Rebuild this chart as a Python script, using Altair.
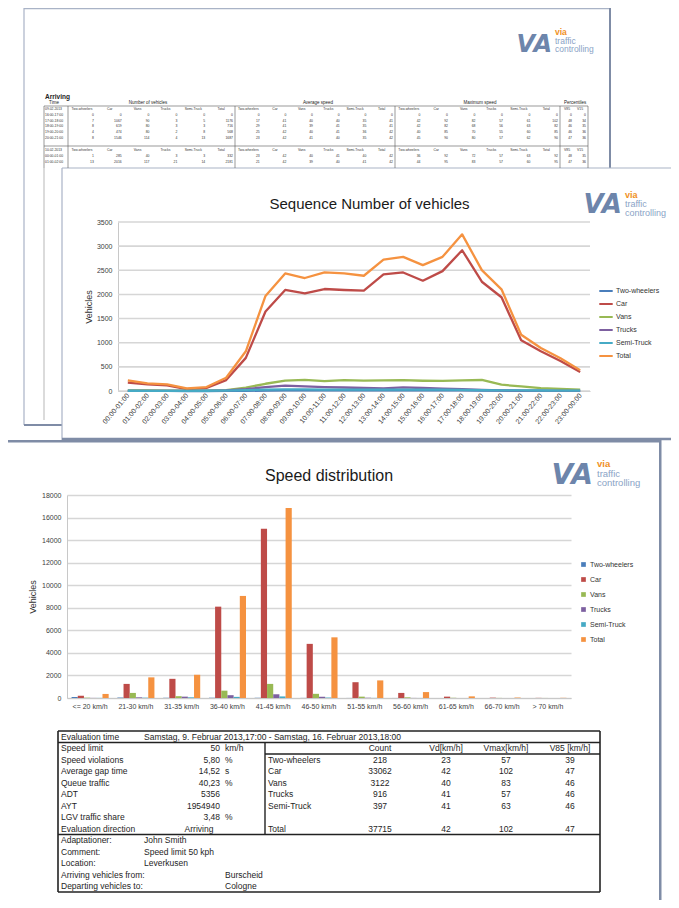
import altair as alt
import pandas as pd

FONT = "Liberation Sans"
NARROW = "Liberation Sans Narrow, Liberation Sans, sans-serif"

# ------------------------------------------------------------------ data
series = ["Two-wheelers", "Car", "Vans", "Trucks", "Semi-Truck", "Total"]
series_colors = ["#4a7ebb", "#be4b48", "#98b954", "#7d60a0", "#46aac5", "#f59240"]

hours = ["00:00-01:00", "01:00-02:00", "02:00-03:00", "03:00-04:00", "04:00-05:00",
         "05:00-06:00", "06:00-07:00", "07:00-08:00", "08:00-09:00", "09:00-10:00",
         "10:00-11:00", "11:00-12:00", "12:00-13:00", "13:00-14:00", "14:00-15:00",
         "15:00-16:00", "16:00-17:00", "17:00-18:00", "18:00-19:00", "19:00-20:00",
         "20:00-21:00", "21:00-22:00", "22:00-23:00", "23:00-00:00"]
hourly_two_wheelers = [2, 1, 1, 0, 0, 1, 4, 8, 12, 13, 14, 15, 14, 13, 16, 15, 14, 12, 10, 6, 4, 3, 2, 1]
hourly_car = [175, 137, 117, 38, 62, 226, 686, 1646, 2092, 2023, 2112, 2092, 2078, 2414,
              2455, 2284, 2483, 2915, 2263, 1941, 1049, 823, 620, 392]
hourly_vans = [10, 10, 9, 5, 5, 20, 70, 150, 215, 230, 205, 225, 215, 218, 225, 212, 208,
               222, 228, 130, 95, 60, 45, 30]
hourly_trucks = [3, 2, 2, 2, 3, 10, 40, 80, 110, 95, 82, 72, 62, 56, 75, 62, 48, 36, 22, 12, 8, 6, 4, 3]
hourly_semi = [5, 4, 4, 4, 5, 8, 18, 28, 34, 34, 30, 30, 30, 30, 30, 30, 28, 25, 20, 15, 12, 10, 8, 6]
hourly_total = [220, 158, 137, 55, 82, 274, 823, 1968, 2435, 2340, 2455, 2435, 2387, 2723,
                2778, 2606, 2778, 3244, 2503, 2106, 1166, 892, 680, 432]
line_ticks = [0, 500, 1000, 1500, 2000, 2500, 3000, 3500]

speed_bins = ["<= 20 km/h", "21-30 km/h", "31-35 km/h", "36-40 km/h", "41-45 km/h",
              "46-50 km/h", "51-55 km/h", "56-60 km/h", "61-65 km/h", "66-70 km/h", "> 70 km/h"]
speed_two_wheelers = [90, 40, 20, 25, 20, 10, 5, 3, 2, 1, 1]
speed_car = [200, 1250, 1700, 8100, 15000, 4800, 1400, 450, 120, 30, 12]
speed_vans = [30, 450, 160, 650, 1250, 370, 120, 60, 20, 8, 4]
speed_trucks = [10, 60, 120, 250, 330, 110, 25, 8, 2, 1, 0]
speed_semi = [10, 30, 60, 100, 140, 40, 10, 4, 2, 1, 0]
speed_total = [360, 1830, 2060, 9050, 16850, 5380, 1560, 525, 146, 41, 17]
bar_ticks = [0, 2000, 4000, 6000, 8000, 10000, 12000, 14000, 16000, 18000]

evaluation_time = "Samstag, 9. Februar 2013,17:00  -  Samstag, 16. Februar 2013,18:00"
left_labels = ["Speed limit", "Speed violations", "Average gap time", "Queue traffic",
               "ADT", "AYT", "LGV traffic share", "Evaluation direction"]
left_numbers = ["50", "5,80", "14,52", "40,23", "5356", "1954940", "3,48", ""]
left_units = ["km/h", "%", "s", "%", "", "", "%", ""]
evaluation_direction = "Arriving"
right_headers = ["Count", "Vd[km/h]", "Vmax[km/h]", "V85 [km/h]"]
class_names = ["Two-wheelers", "Car", "Vans", "Trucks", "Semi-Truck", "", "Total"]
class_count = ["218", "33062", "3122", "916", "397", "", "37715"]
class_vd = ["23", "42", "40", "41", "41", "", "42"]
class_vmax = ["57", "102", "83", "57", "63", "", "102"]
class_v85 = ["39", "47", "46", "46", "46", "", "47"]
footer_labels = ["Adaptationer:", "Comment:", "Location:", "Arriving vehicles from:", "Departing vehicles to:"]
footer_values = ["John Smith", "Speed limit 50 kph", "Leverkusen", "Burscheid", "Cologne"]

# page 1 (background sheet, mostly hidden)
page1_groups = ["Time", "Number of vehicles", "Average speed", "Maximum speed", "Percentiles"]
page1_sub = ["Two-wheelers", "Car", "Vans", "Trucks", "Semi-Truck", "Total"]
page1_pct = ["V85", "V15"]
page1_dates = ["09.02.2013", "10.02.2013"]
page1_times = [["16:00-17:00", "17:00-18:00", "18:00-19:00", "19:00-20:00", "20:00-21:00"],
               ["00:00-01:00", "01:00-02:00"]]
page1_counts = [[[0, 0, 0, 0, 0, 0], [7, 1067, 90, 3, 5, 1176], [8, 619, 80, 3, 3, 716],
                 [4, 474, 80, 2, 8, 568], [8, 1546, 114, 4, 13, 1687]],
                [[1, 285, 40, 3, 3, 332], [13, 2016, 117, 21, 14, 2181]]]
page1_avg = [[[0, 0, 0, 0, 0, 0], [17, 41, 40, 40, 35, 41], [29, 41, 39, 41, 35, 41],
              [25, 42, 40, 41, 36, 42], [23, 42, 41, 40, 35, 42]],
             [[23, 42, 40, 41, 40, 42], [21, 42, 39, 40, 41, 42]]]
page1_max = [[[0, 0, 0, 0, 0, 0], [42, 92, 82, 57, 61, 102], [42, 82, 68, 56, 63, 82],
              [40, 85, 70, 55, 60, 85], [45, 90, 80, 57, 62, 90]],
             [[36, 92, 72, 57, 63, 92], [44, 95, 83, 57, 60, 95]]]
page1_pctv = [[[0, 0], [48, 34], [46, 35], [46, 36], [47, 36]],
              [[48, 35], [47, 36]]]

# ------------------------------------------------------------------ layout (page pixels)
STUB_O = (67, 8)
LINE_O = (67, 222)
BAR_O = (67, 495)
TABLE_O = (67, 731)
ROW_H = 11.5
ONE = pd.DataFrame({"k": [0]})
FRAME = "#a9b3c6"
SHADOW = "#7f8ca6"


def seg(origin, x1, y1, x2, y2, color, width):
    ox, oy = origin
    return alt.Chart(ONE).mark_rule(color=color, strokeWidth=width).encode(
        x=alt.value(x1 - ox), x2=alt.value(x2 - ox), y=alt.value(y1 - oy), y2=alt.value(y2 - oy))


def band(x1, y1, x2, y2, color):
    ox, oy = STUB_O
    return alt.Chart(ONE).mark_rect(color=color, strokeWidth=0).encode(
        x=alt.value(x1 - ox), x2=alt.value(x2 - ox), y=alt.value(y1 - oy), y2=alt.value(y2 - oy))


def txt(origin, x, y, text, size, color="#222", weight="normal", align="left",
        font=FONT, style="normal"):
    ox, oy = origin
    return alt.Chart(ONE).mark_text(
        text=text, fontSize=size, color=color, fontWeight=weight, align=align,
        baseline="middle", font=font, fontStyle=style).encode(
        x=alt.value(x - ox), y=alt.value(y - oy))


def logo(gx_right, gy, tx, ty, size, gsize):
    return [
        txt(STUB_O, gx_right, gy, "VA", gsize, color="#6d85ab", weight="bold",
            align="right", font="DejaVu Sans", style="italic"),
        txt(STUB_O, tx, ty, "via", size, color="#f0901e", weight="bold"),
        txt(STUB_O, tx, ty + size, "traffic", size, color="#8aa3c6"),
        txt(STUB_O, tx, ty + 2 * size, "controlling", size, color="#8aa3c6"),
    ]


# ------------------------------------------------------------------ page frames, logos, page 1
stub_layers = [
    band(24, 8, 610, 9.2, FRAME),            # page 1
    band(23.4, 8, 24.6, 425, FRAME),
    band(609, 8, 611, 168, SHADOW),
    band(24, 424, 62, 426, SHADOW),
    band(62, 167.4, 671, 168.6, FRAME),      # page 2
    band(61.4, 168, 62.6, 440, FRAME),
    band(62, 437.8, 671, 440.2, SHADOW),
    band(8, 440, 660, 442.5, SHADOW),        # page 3
    band(659, 440, 661.5, 900, SHADOW),
    seg(STUB_O, 44, 168, 44, 420, "#888", 0.6),
]
stub_layers += logo(552, 45, 555, 32, 8.5, 24)
stub_layers += logo(622, 205, 625, 195, 9, 26)
stub_layers += logo(593, 476, 597, 464, 9.5, 28)
stub_layers.append(txt(STUB_O, 45, 97, "Arriving", 6.5, weight="bold"))
group_x = [54, 148, 318, 480, 575]
for gx, name in zip(group_x, page1_groups):
    stub_layers.append(txt(STUB_O, gx, 103, name, 4.5, align="center"))
for y in [106, 146]:
    stub_layers.append(seg(STUB_O, 44, y, 588, y, "#555", 0.6))
for x in [44, 68, 235, 395, 560, 588]:
    stub_layers.append(seg(STUB_O, x, 106, x, 168, "#555", 0.6))

# page-1 cell texts (right aligned numbers, left aligned labels)
groups = [(68, 235), (235, 395), (395, 560)]
p1_cells = []
block_top = [109, 150]
for b in range(2):
    y0 = block_top[b]
    p1_cells.append((page1_dates[b], 45, y0, "left"))
    for g0, g1 in groups:
        step = (g1 - g0) / 6
        for i, name in enumerate(page1_sub):
            p1_cells.append((name, g0 + step * (i + 0.5), y0, "center"))
    for i, name in enumerate(page1_pct):
        p1_cells.append((name, 567 + i * 13, y0, "center"))
    for r, t in enumerate(page1_times[b]):
        y = y0 + 5.8 * (r + 1)
        p1_cells.append((t, 45, y, "left"))
        for (g0, g1), vals in zip(groups, [page1_counts[b][r], page1_avg[b][r], page1_max[b][r]]):
            step = (g1 - g0) / 6
            for i, v in enumerate(vals):
                p1_cells.append((str(v), g0 + step * (i + 1) - 2, y, "right"))
        for i, v in enumerate(page1_pctv[b][r]):
            p1_cells.append((str(v), 572 + i * 14, y, "right"))
p1_df = pd.DataFrame(p1_cells, columns=["text", "px", "py", "align"])
p1_df["px"] = p1_df["px"] - STUB_O[0]
p1_df["py"] = p1_df["py"] - STUB_O[1]
for al in ["left", "right", "center"]:
    stub_layers.append(alt.Chart(p1_df).transform_filter(alt.datum.align == al).mark_text(
        align=al, baseline="middle", fontSize=3.4, font=FONT, color="#333").encode(
        x=alt.X("px:Q", scale=None), y=alt.Y("py:Q", scale=None), text="text:N"))
stub = alt.layer(*stub_layers).properties(width=545, height=181)

# ------------------------------------------------------------------ line chart (page 2)
line_rows = []
for name, vals in zip(series, [hourly_two_wheelers, hourly_car, hourly_vans,
                               hourly_trucks, hourly_semi, hourly_total]):
    for h, v in zip(hours, vals):
        line_rows.append({"hour": h, "series": name, "vehicles": v})
line_df = pd.DataFrame(line_rows)

LX0, LX1, LH = 51, 523, 169
line_y = alt.Scale(domain=[0, 3500], range=[LH, 0])
line_y_axis = alt.Axis(values=line_ticks, format="d", title="Vehicles", titleFontSize=9,
                       titleFontWeight="normal", titleColor="#333", titlePadding=3,
                       labelFontSize=7, labelColor="#404040", ticks=False,
                       domainColor="#c8c8c8", grid=False, labelPadding=6, offset=-LX0)

line_grid = alt.Chart(pd.DataFrame({"vehicles": line_ticks})).mark_rule(
    color="#d6d6d6", strokeWidth=1.6).encode(
    y=alt.Y("vehicles:Q", scale=line_y, axis=line_y_axis), x=alt.value(LX0), x2=alt.value(LX1))

lines = alt.Chart(line_df).mark_line(strokeWidth=2.3, strokeJoin="round").encode(
    x=alt.X("hour:N", sort=hours, scale=alt.Scale(type="point", padding=0.5, range=[LX0, LX1]),
            axis=alt.Axis(title=None, labelAngle=-50, labelFontSize=7, labelColor="#404040",
                          ticks=False, grid=False, domainColor="#c8c8c8", labelPadding=3,
                          labelOverlap=False, offset=-(240 - LH))),
    y=alt.Y("vehicles:Q", scale=line_y, axis=line_y_axis),
    color=alt.Color("series:N", sort=series,
                    scale=alt.Scale(domain=series, range=series_colors),
                    legend=alt.Legend(title=None, orient="none", legendX=531, legendY=61,
                                      symbolType="stroke", symbolStrokeWidth=2,
                                      symbolSize=180, labelFontSize=7, labelColor="#333",
                                      rowPadding=1, padding=0, labelOffset=2)),
)
line_chart = alt.layer(line_grid, lines).properties(
    width=523, height=240,
    title=alt.TitleParams("Sequence Number of vehicles", fontSize=15, font=FONT,
                          fontWeight="normal", color="#1a1a1a", offset=6, dx=41,
                          anchor="middle", frame="group"))

# ------------------------------------------------------------------ bar chart (page 3)
bar_rows = []
for name, vals in zip(series, [speed_two_wheelers, speed_car, speed_vans,
                               speed_trucks, speed_semi, speed_total]):
    for b, v in zip(speed_bins, vals):
        bar_rows.append({"speed": b, "series": name, "vehicles": v})
bar_df = pd.DataFrame(bar_rows)

bar_chart = alt.Chart(bar_df).mark_bar().encode(
    x=alt.X("speed:N", sort=speed_bins, scale=alt.Scale(paddingInner=0.19, paddingOuter=0.1),
            axis=alt.Axis(title=None, labelAngle=0, labelFontSize=7, labelColor="#404040",
                          ticks=False, grid=False, domainColor="#c8c8c8", labelPadding=4,
                          labelOverlap=False)),
    xOffset=alt.XOffset("series:N", sort=series,
                        scale=alt.Scale(domain=series, paddingInner=0, paddingOuter=0)),
    y=alt.Y("vehicles:Q", scale=alt.Scale(domain=[0, 18000]),
            axis=alt.Axis(values=bar_ticks, format="d", title="Vehicles",
                          titleFontSize=9, titleFontWeight="normal", titleColor="#333",
                          titlePadding=4, labelFontSize=7, labelColor="#404040",
                          ticks=False, domainColor="#c8c8c8", gridColor="#d6d6d6",
                          gridWidth=1.6, labelPadding=6)),
    color=alt.Color("series:N", sort=series,
                    scale=alt.Scale(domain=series, range=series_colors),
                    legend=alt.Legend(title=None, orient="none", legendX=513, legendY=66,
                                      symbolType="square", symbolSize=22, labelFontSize=7,
                                      labelColor="#333", rowPadding=7, padding=0,
                                      labelOffset=3, symbolStrokeWidth=0)),
).properties(
    width=504, height=203,
    title=alt.TitleParams("Speed distribution", fontSize=16, font=FONT, fontWeight="normal",
                          color="#1a1a1a", offset=7, dx=10, anchor="middle", frame="group"))

# ------------------------------------------------------------------ table
TX = {"label": 61, "span": 144, "lnum": 220, "lunit": 225, "dir": 199, "name": 268,
      "count": 380, "vd": 446, "vmax": 506, "v85": 570, "far": 225}
cells = [("Evaluation time", 0, "label", "left"), (evaluation_time, 0, "span", "left")]
for i, (lab, num, unit) in enumerate(zip(left_labels, left_numbers, left_units)):
    cells.append((lab, i + 1, "label", "left"))
    if num:
        cells.append((num, i + 1, "lnum", "right"))
    if unit:
        cells.append((unit, i + 1, "lunit", "left"))
cells.append((evaluation_direction, 8, "dir", "center"))
for col, head in zip(["count", "vd", "vmax", "v85"], right_headers):
    cells.append((head, 1, col, "center"))
for i, row in enumerate(zip(class_names, class_count, class_vd, class_vmax, class_v85)):
    for col, val in zip(["name", "count", "vd", "vmax", "v85"], row):
        if val:
            cells.append((val, i + 2, col, "left" if col == "name" else "center"))
for i, (lab, val) in enumerate(zip(footer_labels, footer_values)):
    cells.append((lab, i + 9, "label", "left"))
    cells.append((val, i + 9, "span" if i < 3 else "far", "left"))
table_df = pd.DataFrame(cells, columns=["text", "row", "col", "align"])
table_df["px"] = table_df["col"].map(TX)
table_df["yc"] = table_df["row"] + 0.5

xs = alt.Scale(domain=[58, 600], range=[58 - TABLE_O[0], 600 - TABLE_O[0]])
ys = alt.Scale(domain=[0, 14], range=[0, 14 * ROW_H])
table_layers = []
for al in ["left", "right", "center"]:
    table_layers.append(alt.Chart(table_df).transform_filter(alt.datum.align == al).mark_text(
        align=al, baseline="middle", fontSize=8.5, font=NARROW, color="#1e1e1e").encode(
        x=alt.X("px:Q", scale=xs, axis=None), y=alt.Y("yc:Q", scale=ys, axis=None),
        text="text:N"))

t_top, t_bot = TABLE_O[1], TABLE_O[1] + 14 * ROW_H
table_lines = [
    (58, t_top, 600, t_top, 1.6), (58, t_bot, 600, t_bot, 1.6),
    (58, t_top, 58, t_bot, 1.6), (600, t_top, 600, t_bot, 1.6),
    (58, t_top + ROW_H, 600, t_top + ROW_H, 1.6),
    (58, t_top + 9 * ROW_H, 600, t_top + 9 * ROW_H, 1.6),
    (265, t_top + ROW_H, 265, t_top + 9 * ROW_H, 1.4),
    (265, t_top + 2 * ROW_H, 600, t_top + 2 * ROW_H, 1.4),
]
for x1, y1, x2, y2, w in table_lines:
    table_layers.append(seg(TABLE_O, x1, y1, x2, y2, "#222", w))
table_chart = alt.layer(*table_layers).properties(width=533, height=14 * ROW_H)

# ------------------------------------------------------------------ assemble
chart = alt.vconcat(stub, line_chart, bar_chart, table_chart, spacing=33,
                    bounds="flush").resolve_scale(
    color="independent").resolve_legend(color="independent").properties(
    padding=0).configure(font=FONT).configure_view(stroke="transparent", strokeWidth=0)

chart.save("out.html", embed_options={"renderer": "svg", "actions": False})
